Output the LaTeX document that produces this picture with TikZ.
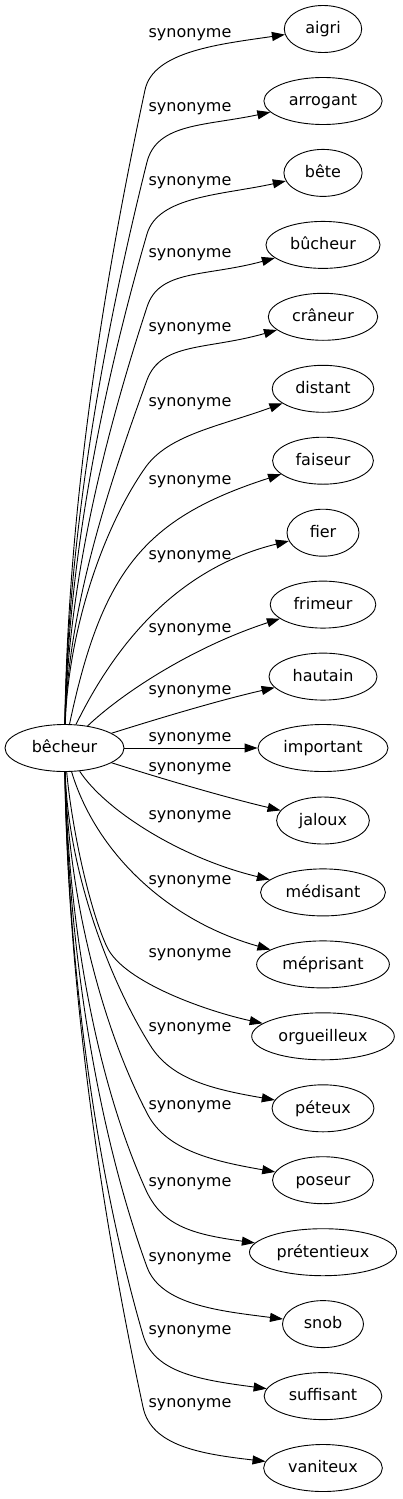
\documentclass[tikz,border=0pt]{standalone}
\usepackage{fontspec}
\setmainfont{DejaVu Sans}
\usetikzlibrary{arrows.meta,shapes.geometric}
\begin{document}
\begin{tikzpicture}[x=1pt,y=-1pt,
  word/.style={ellipse,draw,line width=0.9pt,minimum height=47pt,inner sep=0pt,
    font=\fontsize{16}{19}\selectfont,text height=12.8pt,text depth=3.2pt},
  rel/.style={inner sep=0pt,font=\fontsize{16}{19}\selectfont,text height=12.8pt,text depth=3.2pt},
  link/.style={line width=0.9pt,-{Triangle[length=13pt,width=9pt]}}]
\useasboundingbox (0,0) rectangle (402,1499);

\node[word,minimum width=119pt] (b) at (64.5,748) {bêcheur};

\node[word,minimum width=77.4pt]  (n0)  at (323,29)     {aigri};
\node[word,minimum width=118.2pt] (n1)  at (323,101)    {arrogant};
\node[word,minimum width=78.2pt]  (n2)  at (323,172.9)  {bête};
\node[word,minimum width=114.1pt] (n3)  at (323,244.9)  {bûcheur};
\node[word,minimum width=109.4pt] (n4)  at (323,316.8)  {crâneur};
\node[word,minimum width=101.6pt] (n5)  at (323,388.8)  {distant};
\node[word,minimum width=100.8pt] (n6)  at (323,460.7)  {faiseur};
\node[word,minimum width=72pt]    (n7)  at (323,532.7)  {fier};
\node[word,minimum width=105.6pt] (n8)  at (323,604.6)  {frimeur};
\node[word,minimum width=108pt]   (n9)  at (323,676.6)  {hautain};
\node[word,minimum width=130pt]   (n10) at (323,748)    {important};
\node[word,minimum width=92.7pt]  (n11) at (323,820.5)  {jaloux};
\node[word,minimum width=124.8pt] (n12) at (323,892.4)  {médisant};
\node[word,minimum width=132.7pt] (n13) at (323,964.4)  {méprisant};
\node[word,minimum width=142.6pt] (n14) at (323,1036.3) {orgueilleux};
\node[word,minimum width=101.9pt] (n15) at (323,1108.3) {péteux};
\node[word,minimum width=100.9pt] (n16) at (323,1180.2) {poseur};
\node[word,minimum width=147pt]   (n17) at (323,1252.2) {prétentieux};
\node[word,minimum width=81pt]    (n18) at (323,1324.1) {snob};
\node[word,minimum width=117.7pt] (n19) at (323,1396.1) {suffisant};
\node[word,minimum width=118.7pt] (n20) at (323,1468)   {vaniteux};

\draw[link] (b) .. controls (68,502) and (105,276) .. (145,90) .. controls (153,51) and (221,44) .. (n0);
\draw[link] (b) .. controls (68,527) and (106,326) .. (147,162) .. controls (157,123) and (205,126) .. (n1);
\draw[link] (b) .. controls (68,552) and (106,375) .. (147,234) .. controls (158,196) and (222,195) .. (n2);
\draw[link] (b) .. controls (68,578) and (108,426) .. (147,307) .. controls (159,269) and (205,277) .. (n3);
\draw[link] (b) .. controls (68,604) and (112,477) .. (147,380) .. controls (161,342) and (207,350) .. (n4);
\draw[link] (b) .. controls (68,634) and (101,531) .. (145,468) .. controls (168,435) and (217,427) .. (n5);
\draw[link] (b) .. controls (102,570) and (145,518) .. (n6);
\draw[link] (b) .. controls (110,655) and (170,570) .. (n7);
\draw[link] (b) .. controls (120,695) and (190,648) .. (n8);
\draw[link] (b) .. controls (160,718) and (220,700) .. (n9);
\draw[link] (b) -- (n10);
\draw[link] (b) .. controls (160,778) and (220,796) .. (n11);
\draw[link] (b) .. controls (105,810) and (180,858) .. (n12);
\draw[link] (b) .. controls (95,850) and (165,920) .. (n13);
\draw[link] (b) .. controls (72,830) and (90,911) .. (107,947) .. controls (124,983) and (210,1012) .. (n14);
\draw[link] (b) .. controls (68,868) and (107,976) .. (150,1045) .. controls (171,1079) and (211,1089) .. (n15);
\draw[link] (b) .. controls (68,892) and (100,1024) .. (148,1115) .. controls (167,1150) and (212,1161) .. (n16);
\draw[link] (b) .. controls (68,918) and (94,1074) .. (145,1188) .. controls (161,1225) and (190,1234) .. (n17);
\draw[link] (b) .. controls (68,945) and (96,1127) .. (147,1267) .. controls (161,1305) and (220,1311) .. (n18);
\draw[link] (b) .. controls (68,969) and (96,1173) .. (143,1335) .. controls (154,1373) and (201,1380) .. (n19);
\draw[link] (b) .. controls (68,994) and (103,1221) .. (143,1407) .. controls (151,1446) and (201,1454) .. (n20);

\node[rel] (l0)  at (190,33)   {synonyme};
\node[rel] (l1)  at (190,107)  {synonyme};
\node[rel] (l2)  at (190,181)  {synonyme};
\node[rel] (l3)  at (190,253)  {synonyme};
\node[rel] (l4)  at (190,327)  {synonyme};
\node[rel] (l5)  at (190,402)  {synonyme};
\node[rel] (l6)  at (190,480)  {synonyme};
\node[rel] (l7)  at (190,555)  {synonyme};
\node[rel] (l8)  at (190,628)  {synonyme};
\node[rel] (l9)  at (190,690)  {synonyme};
\node[rel] (l10) at (190,737)  {synonyme};
\node[rel] (l11) at (190,767)  {synonyme};
\node[rel] (l12) at (190,815)  {synonyme};
\node[rel] (l13) at (190,880)  {synonyme};
\node[rel] (l14) at (190,953)  {synonyme};
\node[rel] (l15) at (190,1027) {synonyme};
\node[rel] (l16) at (190,1105) {synonyme};
\node[rel] (l17) at (190,1182) {synonyme};
\node[rel] (l18) at (190,1257) {synonyme};
\node[rel] (l19) at (190,1330) {synonyme};
\node[rel] (l20) at (190,1403) {synonyme};
\end{tikzpicture}
\end{document}
